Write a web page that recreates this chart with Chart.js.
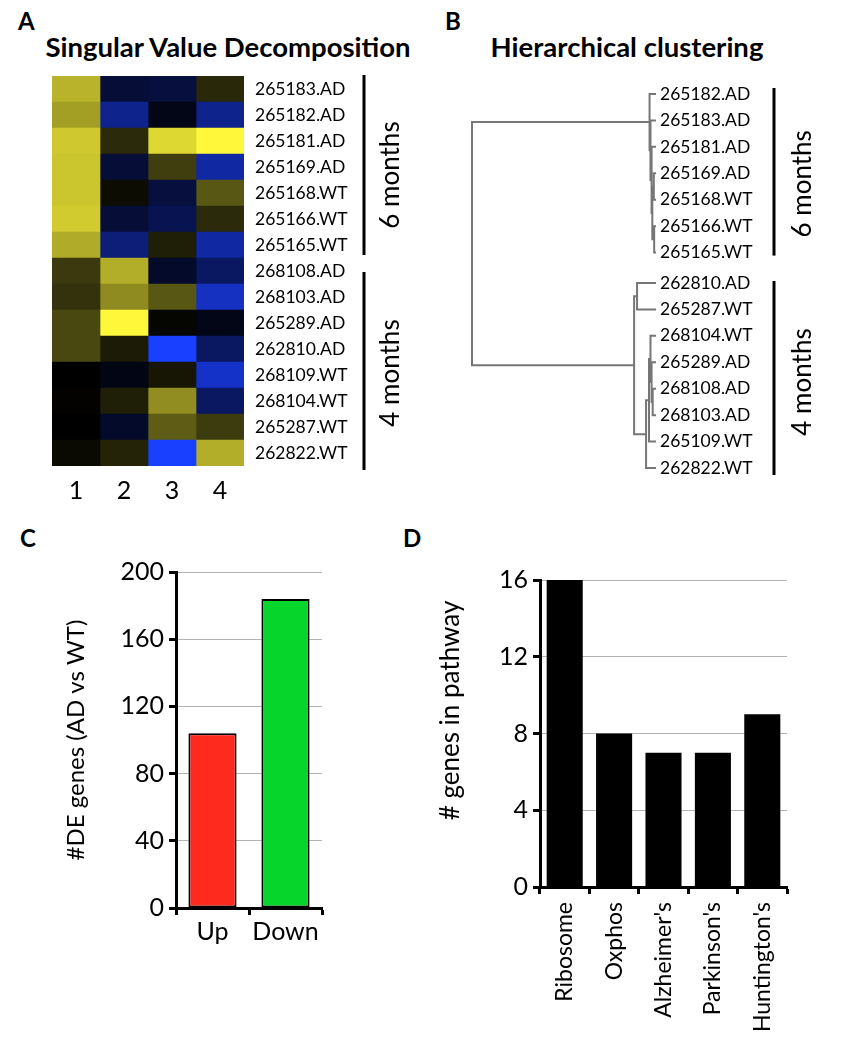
<!DOCTYPE html>
<html>
<head>
<meta charset="utf-8">
<script src="https://cdn.jsdelivr.net/npm/chart.js@4.4.0/dist/chart.umd.min.js"></script>
<style>
  body { margin: 0; background: #fff; font-family: Lato, "Open Sans", sans-serif; }
  #fig { position: relative; width: 844px; height: 1059px; overflow: hidden; }
  canvas { position: absolute; }
  .letter { position: absolute; font-weight: bold; font-size: 24px; line-height: 1; }
  .title { position: absolute; font-weight: bold; font-size: 27.5px; line-height: 1; white-space: nowrap; transform: translateX(-50%); }
</style>
</head>
<body>
<div id="fig">
  <div class="letter" style="left:18px;top:9px">A</div>
  <div class="letter" style="left:445px;top:9px">B</div>
  <div class="letter" style="left:20px;top:526px">C</div>
  <div class="letter" style="left:403px;top:526px">D</div>
  <div class="title" style="left:228px;top:33px">Singular Value Decomposition</div>
  <div class="title" style="left:627px;top:33px">Hierarchical clustering</div>

  <canvas id="chartA" width="420" height="520" style="left:0;top:0"></canvas>
  <canvas id="chartB" width="424" height="520" style="left:420px;top:0"></canvas>
  <canvas id="chartC" width="420" height="529" style="left:0;top:530px"></canvas>
  <canvas id="chartD" width="424" height="529" style="left:420px;top:530px"></canvas>
</div>

<script>
// --- A: SVD heatmap (rows = samples, columns = components) ---
const svdSamples = ['265183.AD', '265182.AD', '265181.AD', '265169.AD', '265168.WT', '265166.WT', '265165.WT',
                    '268108.AD', '268103.AD', '265289.AD', '262810.AD', '268109.WT', '268104.WT', '265287.WT', '262822.WT'];
const svdComponents = ['1', '2', '3', '4'];
// yellow = positive, blue = negative, black = ~0
const comp1 = [0.72, 0.64, 0.81, 0.80, 0.80, 0.82, 0.69, 0.23, 0.20, 0.29, 0.29, 0.00, 0.01, 0.00, 0.04];
const comp2 = [-0.22, -0.55, 0.17, -0.22, 0.05, -0.22, -0.47, 0.70, 0.56, 1.00, 0.11, -0.08, 0.12, -0.16, 0.14];
const comp3 = [-0.24, -0.09, 0.87, 0.25, -0.24, -0.32, 0.12, -0.16, 0.35, 0.02, -1.00, 0.09, 0.57, 0.37, -1.00];
const comp4 = [0.16, -0.55, 1.00, -0.63, 0.35, 0.17, -0.63, -0.38, -0.76, -0.09, -0.38, -0.78, -0.38, 0.24, 0.70];

// groups (index ranges into the sample lists)
const ageGroups = [
  { text: '6 months', first: 0, last: 6 },
  { text: '4 months', first: 7, last: 14 }
];

// --- B: hierarchical clustering (leaf order, then merges: node ids 0..14 leaves, 15+ merges) ---
const hcLeaves = ['265182.AD', '265183.AD', '265181.AD', '265169.AD', '265168.WT', '265166.WT', '265165.WT',
                  '262810.AD', '265287.WT', '268104.WT', '265289.AD', '268108.AD', '268103.AD', '265109.WT', '262822.WT'];
const hcMerges = [
  [3, 4, 1.2], [5, 6, 1.0], [15, 16, 2.0], [2, 17, 2.4], [1, 18, 3.0], [0, 19, 3.5],
  [7, 8, 10.3], [11, 12, 1.8], [10, 22, 2.4], [9, 23, 3.0], [24, 13, 3.8], [25, 14, 5.4],
  [21, 26, 11.9], [20, 27, 100]
];

// --- C: DE genes ---
const deLabels = ['Up', 'Down'];
const deCounts = [104, 184];

// --- D: pathways ---
const pathwayLabels = ['Ribosome', 'Oxphos', "Alzheimer's", "Parkinson's", "Huntington's"];
const pathwayCounts = [16, 8, 7, 7, 9];

Chart.defaults.font.family = "Lato, 'Open Sans', sans-serif";
Chart.defaults.color = '#000';

function heatColor(v) {
  if (v >= 0) return `rgb(${Math.round(255 * v)},${Math.round(248 * v)},${Math.round(58 * v)})`;
  const a = -v;
  return `rgb(${Math.round(26 * a)},${Math.round(64 * a)},${Math.round(255 * a)})`;
}

// vertical bracket + rotated label for each age group
function makeBrackets(pos, ends, lineDx, textDx, textShift) {
  return {
    id: 'brackets',
    afterDraw(chart) {
      const { ctx, chartArea } = chart;
      const y = chart.scales.y;
      ctx.save();
      ageGroups.forEach((g, i) => {
        const top = y.getPixelForValue(pos(g.first)) + ends[i][0];
        const bot = y.getPixelForValue(pos(g.last)) + ends[i][1];
        const x = chartArea.right + lineDx;
        ctx.strokeStyle = '#000';
        ctx.lineWidth = 3;
        ctx.beginPath();
        ctx.moveTo(x, top);
        ctx.lineTo(x, bot);
        ctx.stroke();
        ctx.save();
        ctx.translate(chartArea.right + textDx, (top + bot) / 2 + textShift[i]);
        ctx.rotate(-Math.PI / 2);
        ctx.font = "26px Lato, 'Open Sans', sans-serif";
        ctx.fillStyle = '#000';
        ctx.textAlign = 'center';
        ctx.textBaseline = 'middle';
        ctx.fillText(g.text, 0, 0);
        ctx.restore();
      });
      ctx.restore();
    }
  };
}

// A: heatmap as floating horizontal bars
const svdColumns = [comp1, comp2, comp3, comp4];
new Chart(document.getElementById('chartA'), {
  type: 'bar',
  data: {
    labels: svdSamples,
    datasets: svdColumns.map((vals, j) => ({
      label: svdComponents[j],
      data: vals.map(() => [j, j + 1]),
      backgroundColor: vals.map(heatColor),
      borderWidth: 0,
      grouped: false,
      categoryPercentage: 1,
      barPercentage: 1
    }))
  },
  options: {
    indexAxis: 'y',
    responsive: false,
    animation: false,
    layout: { padding: { left: 52, top: 76, right: 0, bottom: 0 } },
    plugins: { legend: { display: false }, tooltip: { enabled: false } },
    scales: {
      x: {
        type: 'linear', min: 0, max: svdComponents.length,
        grid: { display: false, drawTicks: false },
        border: { display: false },
        afterBuildTicks: s => { s.ticks = svdComponents.map((c, i) => ({ value: i + 0.5 })); },
        afterFit: s => { s.height = 54; },
        ticks: { callback: (v, i) => svdComponents[i], font: { size: 25 }, padding: 10, autoSkip: false, maxRotation: 0 }
      },
      y: {
        position: 'right',
        grid: { display: false, drawTicks: false },
        border: { display: false },
        afterFit: s => { s.width = 176; },
        ticks: { font: { size: 17.5 }, padding: 11, autoSkip: false }
      }
    }
  },
  plugins: [makeBrackets(i => i, [[-14, 10], [1, 17]], 120, 147, [10, 2])]
});

// B: dendrogram built from merges
const groupGap = 0.15;
const leafPos = hcLeaves.map((_, i) => i + (i >= ageGroups[1].first ? groupGap : 0));
const nodeY = leafPos.slice();
const nodeH = leafPos.map(() => 0);
const dendro = [];
hcMerges.forEach(([a, b, h]) => {
  dendro.push({ x: nodeH[a], y: nodeY[a] }, { x: h, y: nodeY[a] },
              { x: h, y: nodeY[b] }, { x: nodeH[b], y: nodeY[b] }, { x: h, y: NaN });
  nodeY.push((nodeY[a] + nodeY[b]) / 2);
  nodeH.push(h);
});

new Chart(document.getElementById('chartB'), {
  type: 'line',
  data: {
    datasets: [{
      data: dendro,
      borderColor: '#767676',
      borderWidth: 2,
      pointRadius: 0,
      tension: 0,
      spanGaps: false,
      clip: false
    }]
  },
  options: {
    responsive: false,
    animation: false,
    layout: { padding: { left: 52, top: 94, right: 0, bottom: 52 } },
    plugins: { legend: { display: false }, tooltip: { enabled: false } },
    scales: {
      x: { type: 'linear', min: 0, max: 100, reverse: true, display: false },
      y: {
        type: 'linear', min: 0, max: leafPos[leafPos.length - 1], reverse: true,
        position: 'right',
        grid: { display: false, drawTicks: false },
        border: { display: false },
        afterBuildTicks: s => { s.ticks = leafPos.map(v => ({ value: v })); },
        afterFit: s => { s.width = 188; },
        ticks: { callback: (v, i) => hcLeaves[i], font: { size: 17.5 }, padding: 4, autoSkip: false }
      }
    }
  },
  plugins: [makeBrackets(i => leafPos[i], [[-6, 3], [-2, 7]], 118, 147, [12, 4])]
});

// C: DE genes bar chart
new Chart(document.getElementById('chartC'), {
  type: 'bar',
  data: {
    labels: deLabels,
    datasets: [{
      data: deCounts,
      backgroundColor: ['#ff2a1e', '#06d62c'],
      borderColor: '#000',
      borderWidth: 2,
      borderSkipped: false,
      categoryPercentage: 1,
      barPercentage: 0.66
    }]
  },
  options: {
    responsive: false,
    animation: false,
    layout: { padding: { left: 58, top: 42, right: 98, bottom: 91 } },
    plugins: { legend: { display: false }, tooltip: { enabled: false } },
    scales: {
      x: {
        grid: { drawOnChartArea: false, tickColor: '#000', tickWidth: 3, tickLength: 7 },
        border: { color: '#000', width: 3 },
        ticks: { font: { size: 25 }, padding: 2 },
        afterFit: s => { s.height = 60; }
      },
      y: {
        min: 0, max: 200,
        ticks: { stepSize: 40, font: { size: 25 }, padding: 5 },
        grid: { color: '#b3b3b3', tickColor: '#000', tickWidth: 3, tickLength: 7 },
        border: { color: '#000', width: 3 },
        title: { display: true, text: '#DE genes (AD vs WT)', font: { size: 24 } },
        afterFit: s => { s.width = 118; }
      }
    }
  }
});

// D: pathway bar chart (y title drawn a little above centre, like the original)
const sideTitle = {
  id: 'sideTitle',
  afterDraw(chart) {
    const { ctx, chartArea } = chart;
    ctx.save();
    ctx.translate(chartArea.left - 89, (chartArea.top + chartArea.bottom) / 2 - 23);
    ctx.rotate(-Math.PI / 2);
    ctx.font = "26px Lato, 'Open Sans', sans-serif";
    ctx.fillStyle = '#000';
    ctx.textAlign = 'center';
    ctx.textBaseline = 'middle';
    ctx.fillText('# genes in pathway', 0, 0);
    ctx.restore();
  }
};

new Chart(document.getElementById('chartD'), {
  type: 'bar',
  data: {
    labels: pathwayLabels,
    datasets: [{
      data: pathwayCounts,
      backgroundColor: '#000',
      borderWidth: 0,
      categoryPercentage: 1,
      barPercentage: 0.73
    }]
  },
  options: {
    responsive: false,
    animation: false,
    layout: { padding: { left: 13, top: 50, right: 57, bottom: 0 } },
    plugins: { legend: { display: false }, tooltip: { enabled: false } },
    scales: {
      x: {
        grid: { drawOnChartArea: false, tickColor: '#000', tickWidth: 3, tickLength: 7 },
        border: { color: '#000', width: 3 },
        ticks: { font: { size: 23 }, padding: 8, minRotation: 90, maxRotation: 90, autoSkip: false },
        afterFit: s => { s.height = 172; }
      },
      y: {
        min: 0, max: 16,
        ticks: { stepSize: 4, font: { size: 25 }, padding: 5 },
        grid: { color: '#b3b3b3', tickColor: '#000', tickWidth: 3, tickLength: 7 },
        border: { color: '#000', width: 3 },
        afterFit: s => { s.width = 107; }
      }
    }
  },
  plugins: [sideTitle]
});
</script>
</body>
</html>
